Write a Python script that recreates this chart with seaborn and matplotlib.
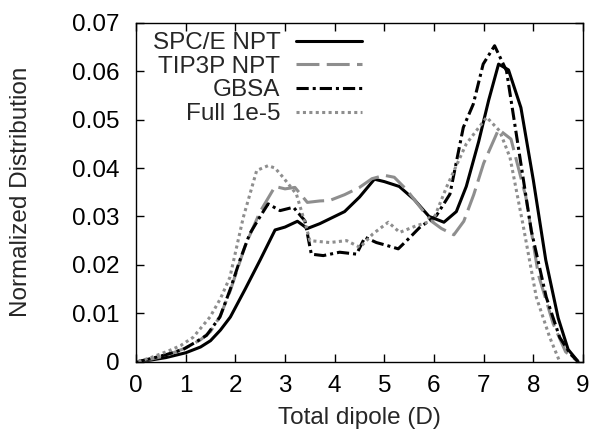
import matplotlib
matplotlib.use("Agg")
import matplotlib.pyplot as plt
import seaborn as sns
import pandas as pd

# ---- data ----
spce_x = [0.05, 0.3, 0.6, 1.0, 1.3, 1.5, 1.7, 1.9, 2.2, 2.5, 2.8, 3.0, 3.25, 3.45, 3.7, 3.9, 4.2, 4.5,
          4.8, 5.0, 5.3, 5.6, 5.9, 6.2, 6.45, 6.65, 6.9, 7.1, 7.3, 7.5, 7.75, 8.0, 8.25, 8.5, 8.7, 8.9]
spce_y = [0, 0.0003, 0.0008, 0.0018, 0.003, 0.0043, 0.0065, 0.0092, 0.015, 0.021, 0.0272, 0.0278, 0.029,
          0.0275, 0.0285, 0.0295, 0.031, 0.034, 0.0377, 0.0372, 0.0362, 0.0335, 0.030, 0.0288, 0.031,
          0.0362, 0.0455, 0.054, 0.0615, 0.0603, 0.0525, 0.0375, 0.021, 0.009, 0.0025, 0.0]

tip3p_x = [0.05, 0.3, 0.6, 1.0, 1.3, 1.5, 1.7, 1.9, 2.2, 2.5, 2.8, 3.0, 3.2, 3.45, 3.7, 3.9, 4.2, 4.5,
           4.75, 5.0, 5.2, 5.45, 5.7, 5.95, 6.15, 6.4, 6.6, 6.8, 7.0, 7.3, 7.55, 7.85, 8.1, 8.4, 8.65, 8.9]
tip3p_y = [0, 0.0005, 0.0012, 0.0028, 0.0045, 0.0062, 0.0095, 0.0147, 0.024, 0.031, 0.0362, 0.0357,
           0.036, 0.0329, 0.0332, 0.0333, 0.0345, 0.036, 0.0378, 0.0385, 0.0381, 0.0355, 0.0322, 0.029,
           0.0275, 0.0262, 0.029, 0.0345, 0.041, 0.048, 0.046, 0.034, 0.018, 0.0078, 0.002, 0.0]

gbsa_x = [0.05, 0.3, 0.6, 0.95, 1.2, 1.42, 1.69, 1.9, 2.09, 2.29, 2.5, 2.66, 2.9, 3.17, 3.4, 3.53, 3.77,
          4.1, 4.44, 4.61, 4.84, 5.05, 5.28, 5.5, 5.71, 6.05, 6.32, 6.59, 6.79, 6.99, 7.22, 7.46, 7.73,
          7.96, 8.26, 8.53, 8.75, 8.9]
gbsa_y = [0, 0.0006, 0.0014, 0.0025, 0.004, 0.0054, 0.0092, 0.015, 0.0209, 0.0264, 0.030, 0.0326, 0.0312,
          0.0319, 0.0291, 0.0222, 0.0219, 0.0226, 0.0222, 0.0257, 0.0246, 0.0240, 0.0233, 0.0255, 0.0277,
          0.0302, 0.0346, 0.0484, 0.0532, 0.0615, 0.0653, 0.0601, 0.0422, 0.027, 0.0133, 0.005, 0.0015, 0.0]

full_x = [0.05, 0.3, 0.68, 0.9, 1.15, 1.49, 1.7, 1.89, 2.16, 2.43, 2.66, 2.8, 2.96, 3.23, 3.43, 3.5, 3.9,
          4.24, 4.51, 4.77, 5.08, 5.31, 5.65, 5.98, 6.25, 6.65, 7.06, 7.32, 7.53, 7.79, 8.06, 8.33, 8.53]
full_y = [0, 0.0008, 0.0023, 0.0033, 0.005, 0.0092, 0.013, 0.0174, 0.0298, 0.0395, 0.0405, 0.040, 0.0381,
          0.0346, 0.0277, 0.025, 0.0246, 0.025, 0.0236, 0.0264, 0.0288, 0.0267, 0.0281, 0.0291, 0.036,
          0.045, 0.0505, 0.0477, 0.0422, 0.0284, 0.0133, 0.005, 0.0]

labels = ["SPC/E NPT", "TIP3P NPT", "GBSA", "Full 1e-5"]
xticks = [0, 1, 2, 3, 4, 5, 6, 7, 8, 9]
yticks = [0, 0.01, 0.02, 0.03, 0.04, 0.05, 0.06, 0.07]
yticklabels = ["0", "0.01", "0.02", "0.03", "0.04", "0.05", "0.06", "0.07"]

# ---- style ----
sns.set_style("ticks")
plt.rcParams["font.family"] = ["Liberation Sans", "DejaVu Sans"]

W, H = 600, 446
fig = plt.figure(figsize=(W / 100, H / 100), dpi=100)
L, R, T, B = 136, 583, 23, 361.5
ax = fig.add_axes([L / W, 1 - B / H, (R - L) / W, (B - T) / H])

grey = "#8e8e8e"
series = [
    (spce_x, spce_y, labels[0], "black", "-"),
    (tip3p_x, tip3p_y, labels[1], grey, (0, (7.5, 2.4))),
    (gbsa_x, gbsa_y, labels[2], "black", (0, (4, 1.3, 1, 1.3))),
    (full_x, full_y, labels[3], grey, (0, (1, 1.1))),
]
for xs, ys, lab, col, ls in series:
    df = pd.DataFrame({"x": xs, "y": ys})
    sns.lineplot(data=df, x="x", y="y", ax=ax, color=col, linestyle=ls,
                 linewidth=2.2, label=lab, sort=False)

ax.set_xlim(0, 9)
ax.set_ylim(0, 0.07)
ax.set_xticks(xticks)
ax.set_xticklabels([str(t) for t in xticks])
ax.set_yticks(yticks)
ax.set_yticklabels(yticklabels)
ax.tick_params(direction="in", length=6, width=1, top=True, right=True,
               labelsize=17.5, colors="black")
ax.tick_params(axis="x", pad=10)
ax.tick_params(axis="y", pad=12)
for s in ax.spines.values():
    s.set_linewidth(1)
    s.set_color("black")
ax.set_xlabel("Total dipole (D)", fontsize=17.5, labelpad=7)
ax.set_ylabel("Normalized Distribution", fontsize=17.5, labelpad=29)

fs_leg = 17.5
leg = ax.legend(loc="upper right",
                bbox_to_anchor=((362 - L) / (R - L), 1 - 9.0 / (B - T)),
                markerfirst=False, frameon=False, fontsize=fs_leg,
                handlelength=2.7, handletextpad=0.66,
                labelspacing=0.07, borderaxespad=0.0, borderpad=0.0)

fig.savefig("out.png", dpi=100)
